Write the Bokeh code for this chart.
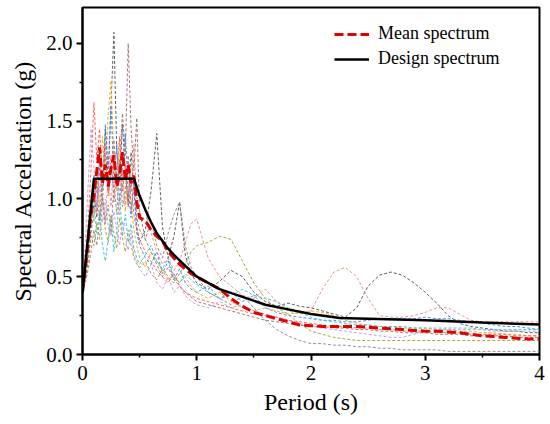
from bokeh.plotting import figure
from bokeh.models import Range1d, FixedTicker, PrintfTickFormatter, Legend, LegendItem
from bokeh.embed import file_html
from bokeh.resources import INLINE

# Period grid (s)
PERIOD = [0.0, 0.025, 0.05, 0.075, 0.1, 0.125, 0.15, 0.175, 0.2, 0.225, 0.25, 0.275, 0.3,
          0.325, 0.35, 0.375, 0.4, 0.425, 0.45, 0.475, 0.5,
          0.55, 0.6, 0.65, 0.7, 0.75, 0.8, 0.85, 0.9, 0.95, 1.0,
          1.1, 1.2, 1.3, 1.4, 1.5, 1.6, 1.7, 1.8, 1.9, 2.0, 2.1, 2.2, 2.3, 2.4, 2.5,
          2.6, 2.7, 2.8, 2.9, 3.0, 3.1, 3.2, 3.3, 3.4, 3.5, 3.6, 3.7, 3.8, 3.9, 4.0]

# Individual ground-motion spectra (g)
rec1 = [0.40, 0.52, 0.68, 0.90, 1.05, 0.88, 1.22, 0.98, 1.45, 1.12, 1.62, 2.07, 1.30, 1.12, 1.48, 1.18, 0.96, 1.30, 1.05, 0.82, 0.72,
        0.80, 1.05, 1.42, 0.82, 0.62, 0.76, 0.98, 0.64, 0.52, 0.46,
        0.42, 0.47, 0.54, 0.50, 0.40, 0.34, 0.31, 0.33, 0.31, 0.30, 0.28, 0.26, 0.24, 0.30, 0.44,
        0.51, 0.53, 0.51, 0.46, 0.40, 0.33, 0.25, 0.20, 0.18, 0.17, 0.16, 0.15, 0.15, 0.14, 0.14]
rec2 = [0.40, 0.48, 0.60, 0.78, 0.92, 1.08, 0.86, 1.15, 1.28, 1.02, 1.18, 1.38, 1.08, 1.22, 1.55, 1.28, 2.00, 1.45, 1.18, 1.52, 0.92,
        0.74, 0.66, 0.58, 0.50, 0.56, 0.48, 0.44, 0.40, 0.37, 0.34,
        0.32, 0.30, 0.28, 0.26, 0.24, 0.22, 0.21, 0.20, 0.19, 0.18, 0.18, 0.17, 0.17, 0.16, 0.16,
        0.15, 0.15, 0.14, 0.14, 0.14, 0.13, 0.13, 0.13, 0.12, 0.12, 0.12, 0.12, 0.11, 0.11, 0.11]
rec3 = [0.40, 0.58, 0.80, 1.02, 0.85, 1.18, 0.95, 1.40, 1.12, 1.55, 1.76, 1.25, 1.05, 1.38, 1.12, 0.92, 1.20, 0.98, 0.80, 0.70, 0.62,
        0.56, 0.66, 0.60, 0.54, 0.48, 0.52, 0.46, 0.50, 0.44, 0.40,
        0.36, 0.40, 0.34, 0.30, 0.28, 0.30, 0.28, 0.26, 0.27, 0.28, 0.27, 0.25, 0.22, 0.20, 0.19,
        0.18, 0.18, 0.17, 0.17, 0.17, 0.16, 0.16, 0.15, 0.15, 0.14, 0.14, 0.13, 0.13, 0.12, 0.12]
rec4 = [0.40, 0.55, 0.72, 0.95, 1.15, 0.92, 1.30, 1.05, 1.48, 1.20, 1.60, 1.10, 1.35, 0.98, 1.22, 1.42, 1.05, 0.88, 1.10, 0.78, 0.70,
        0.62, 0.58, 0.66, 0.52, 0.60, 0.48, 0.55, 0.46, 0.42, 0.40,
        0.44, 0.36, 0.40, 0.34, 0.38, 0.30, 0.27, 0.25, 0.24, 0.23, 0.22, 0.22, 0.21, 0.21, 0.22,
        0.23, 0.23, 0.23, 0.23, 0.24, 0.23, 0.23, 0.22, 0.21, 0.20, 0.19, 0.18, 0.18, 0.17, 0.16]
rec5 = [0.40, 0.50, 0.65, 0.82, 0.98, 0.78, 0.92, 0.70, 0.60, 0.74, 0.88, 0.66, 0.80, 1.02, 0.76, 0.90, 0.72, 0.84, 0.68, 0.62, 0.58,
        0.64, 0.70, 0.60, 0.55, 0.62, 0.50, 0.46, 0.52, 0.48, 0.45,
        0.40, 0.36, 0.38, 0.42, 0.38, 0.36, 0.34, 0.30, 0.27, 0.24, 0.22, 0.21, 0.20, 0.19, 0.19,
        0.18, 0.18, 0.18, 0.17, 0.17, 0.17, 0.17, 0.17, 0.17, 0.16, 0.16, 0.16, 0.16, 0.16, 0.16]
rec6 = [0.40, 0.56, 0.74, 0.96, 1.12, 0.90, 1.25, 1.02, 0.86, 1.15, 0.95, 1.30, 1.08, 0.90, 1.18, 0.96, 1.25, 1.05, 1.35, 1.00, 1.02,
        0.92, 0.78, 0.66, 0.58, 0.62, 0.54, 0.60, 0.72, 0.84, 0.87,
        0.62, 0.50, 0.44, 0.38, 0.36, 0.42, 0.34, 0.28, 0.26, 0.28, 0.42, 0.53, 0.56, 0.50, 0.36,
        0.25, 0.24, 0.24, 0.25, 0.27, 0.30, 0.30, 0.26, 0.22, 0.21, 0.21, 0.21, 0.21, 0.21, 0.21]
rec7 = [0.40, 0.50, 0.62, 0.76, 0.70, 0.85, 0.74, 0.98, 0.80, 0.72, 0.90, 0.78, 0.68, 0.88, 0.75, 0.66, 0.80, 0.70, 0.62, 0.58, 0.56,
        0.60, 0.52, 0.48, 0.55, 0.50, 0.46, 0.52, 0.58, 0.66, 0.70,
        0.72, 0.76, 0.74, 0.60, 0.46, 0.36, 0.30, 0.26, 0.20, 0.15, 0.13, 0.11, 0.10, 0.09, 0.09,
        0.09, 0.09, 0.09, 0.09, 0.09, 0.09, 0.09, 0.09, 0.09, 0.09, 0.09, 0.09, 0.09, 0.09, 0.09]
rec8 = [0.40, 0.72, 1.10, 1.45, 1.20, 0.95, 1.08, 0.85, 1.00, 0.82, 0.76, 0.92, 0.80, 0.70, 0.86, 0.74, 0.67, 0.78, 0.64, 0.60, 0.55,
        0.50, 0.58, 0.46, 0.42, 0.50, 0.40, 0.44, 0.38, 0.34, 0.32,
        0.30, 0.34, 0.30, 0.32, 0.28, 0.26, 0.24, 0.22, 0.20, 0.18, 0.17, 0.16, 0.15, 0.14, 0.13,
        0.12, 0.11, 0.11, 0.13, 0.15, 0.16, 0.16, 0.16, 0.16, 0.16, 0.15, 0.15, 0.15, 0.15, 0.15]
rec9 = [0.40, 0.60, 0.85, 1.20, 1.62, 1.25, 1.45, 1.10, 1.35, 1.05, 1.28, 0.98, 1.18, 1.40, 1.05, 1.22, 0.95, 1.10, 0.90, 0.80, 0.74,
        0.66, 0.60, 0.54, 0.50, 0.46, 0.52, 0.44, 0.40, 0.38, 0.36,
        0.34, 0.32, 0.30, 0.28, 0.26, 0.25, 0.24, 0.22, 0.21, 0.20, 0.19, 0.18, 0.18, 0.17, 0.17,
        0.16, 0.16, 0.15, 0.15, 0.15, 0.14, 0.14, 0.14, 0.13, 0.13, 0.13, 0.13, 0.12, 0.12, 0.12]
rec10 = [0.40, 0.46, 0.55, 0.66, 0.80, 0.70, 0.88, 1.02, 0.84, 0.96, 0.78, 1.10, 0.90, 1.25, 0.95, 1.05, 1.28, 0.92, 1.12, 0.88, 0.80,
         0.74, 0.86, 0.70, 0.62, 0.78, 0.90, 0.98, 0.70, 0.56, 0.50,
         0.40, 0.36, 0.32, 0.38, 0.30, 0.22, 0.16, 0.12, 0.09, 0.07, 0.07, 0.06, 0.06, 0.05, 0.05,
         0.04, 0.04, 0.03, 0.03, 0.03, 0.03, 0.02, 0.02, 0.02, 0.02, 0.02, 0.02, 0.02, 0.02, 0.02]

RECORDS = [rec1, rec2, rec3, rec4, rec5, rec6, rec7, rec8, rec9, rec10]
REC_COLORS = ["#555555", "#a0706a", "#d8b020", "#4a86e8", "#33c4dc",
              "#f28a8a", "#a8a032", "#c49ae8", "#ff5a5a", "#8a8a8a"]

# Mean spectrum (g)
mean_sa = [0.40, 0.55, 0.72, 0.90, 1.02, 1.18, 1.33, 1.10, 1.22, 1.08, 1.20, 1.28, 1.08, 1.15, 1.30, 1.12, 1.22, 1.10, 1.15, 0.98, 0.88,
           0.86, 0.80, 0.76, 0.73, 0.66, 0.62, 0.58, 0.55, 0.52, 0.50,
           0.46, 0.42, 0.36, 0.31, 0.27, 0.25, 0.23, 0.21, 0.19, 0.185, 0.18, 0.18, 0.18, 0.18, 0.175,
           0.17, 0.165, 0.16, 0.155, 0.15, 0.15, 0.145, 0.14, 0.13, 0.12, 0.115, 0.11, 0.105, 0.10, 0.10]

# Design spectrum
design_T = [0.0, 0.1, 0.45, 0.5, 0.55, 0.6, 0.65, 0.7, 0.75, 0.8, 0.9, 1.0, 1.2, 1.4, 1.6, 1.8, 2.0, 2.25, 2.5, 3.0, 3.5, 4.0]
design_sa = [0.40, 1.13, 1.13, 1.02, 0.93, 0.85, 0.78, 0.73, 0.68, 0.64, 0.57, 0.50, 0.42, 0.37, 0.32, 0.29, 0.26, 0.235, 0.23, 0.22, 0.205, 0.193]

X_TICKS = [0, 1, 2, 3, 4]
X_MINOR = [0.5, 1.5, 2.5, 3.5]
Y_TICKS = [0, 0.5, 1.0, 1.5, 2.0]
Y_MINOR = [0.25, 0.75, 1.25, 1.75]

FONT = "Liberation Serif"

p = figure(width=547, height=420, output_backend="svg", toolbar_location=None,
           x_range=Range1d(0, 4), y_range=Range1d(0, 2.23),
           min_border_left=82, min_border_right=8, min_border_top=7, min_border_bottom=66)
p.xgrid.visible = False
p.ygrid.visible = False
p.outline_line_color = "black"
p.outline_line_width = 2
p.background_fill_color = "white"
p.border_fill_color = "white"

for rec, col in zip(RECORDS, REC_COLORS):
    p.line(PERIOD, rec, line_color=col, line_width=1, line_dash="3 2", line_alpha=0.95)

r_mean = p.line(PERIOD, mean_sa, line_color="#e00000", line_width=3, line_dash="9 4")
r_design = p.line(design_T, design_sa, line_color="black", line_width=2.5)

for ax in (p.xaxis[0], p.yaxis[0]):
    ax.axis_line_width = 2
    ax.axis_line_color = "black"
    ax.major_tick_line_width = 2
    ax.minor_tick_line_width = 1.5
    ax.major_tick_in = 0
    ax.major_tick_out = 6
    ax.minor_tick_in = 0
    ax.minor_tick_out = 3
    ax.major_label_text_font = FONT
    ax.major_label_text_font_size = "21px"
    ax.major_label_text_color = "black"
    ax.axis_label_text_font = FONT
    ax.axis_label_text_font_size = "24px"
    ax.axis_label_text_font_style = "normal"
    ax.axis_label_text_color = "black"

p.xaxis[0].ticker = FixedTicker(ticks=X_TICKS, minor_ticks=X_MINOR)
p.yaxis[0].ticker = FixedTicker(ticks=Y_TICKS, minor_ticks=Y_MINOR)
p.yaxis[0].formatter = PrintfTickFormatter(format="%.1f")
p.xaxis[0].formatter = PrintfTickFormatter(format="%d")
p.xaxis[0].axis_label = "Period (s)"
p.yaxis[0].axis_label = "Spectral Acceleration (g)"
p.xaxis[0].major_label_standoff = 5
p.yaxis[0].major_label_standoff = 4
p.xaxis[0].axis_label_standoff = 6
p.yaxis[0].axis_label_standoff = 7

legend = Legend(items=[LegendItem(label="Mean spectrum", renderers=[r_mean]),
                       LegendItem(label="Design spectrum", renderers=[r_design])],
                location=(252, 285))
legend.border_line_color = None
legend.background_fill_alpha = 0
legend.padding = 0
legend.margin = 0
legend.spacing = 4
legend.glyph_width = 35
legend.glyph_height = 20
legend.label_height = 20
legend.label_standoff = 9
legend.label_text_font = FONT
legend.label_text_font_size = "18px"
legend.label_text_color = "black"
p.add_layout(legend)

open("out.html", "w").write(file_html(p, INLINE))
